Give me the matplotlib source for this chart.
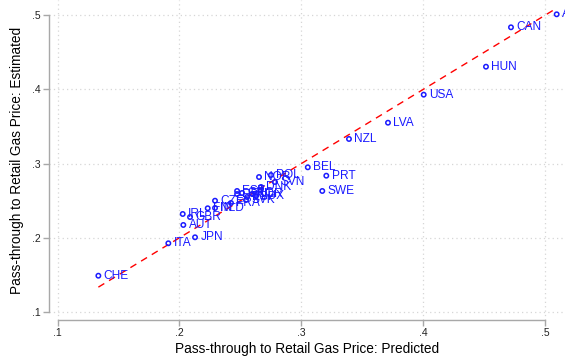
import matplotlib
matplotlib.use("Agg")
import matplotlib.pyplot as plt
import numpy as np

plt.rcParams['font.family'] = ['Liberation Sans', 'DejaVu Sans']

# Country codes with predicted and estimated pass-through
countries = ["AUS", "CAN", "HUN", "USA", "LVA", "NZL", "BEL", "PRT", "SWE",
             "POL", "NOR", "SVN", "DNK", "CZE", "FIN", "NLD", "IRL", "GBR",
             "AUT", "JPN", "ITA", "CHE", "EST", "DEU", "GRC", "ESP", "KOR",
             "SVK", "LUX", "FRA"]
predicted = [0.5095, 0.4720, 0.4515, 0.4004, 0.3711, 0.3391, 0.3053, 0.3205, 0.3172,
             0.2751, 0.2653, 0.2784, 0.2669, 0.2292, 0.2232, 0.2292, 0.2027, 0.2087,
             0.2032, 0.2128, 0.1909, 0.1335, 0.2473, 0.2473, 0.2514, 0.2555, 0.2596,
             0.2546, 0.2628, 0.2423]
estimated = [0.5012, 0.4837, 0.4306, 0.3929, 0.3551, 0.3332, 0.2950, 0.2837, 0.2631,
             0.2846, 0.2819, 0.2752, 0.2685, 0.2500, 0.2398, 0.2402, 0.2321, 0.2280,
             0.2173, 0.2007, 0.1926, 0.1489, 0.2631, 0.2590, 0.2604, 0.2550, 0.2590,
             0.2509, 0.2563, 0.2469]

xticks = [0.1, 0.2, 0.3, 0.4, 0.5]
yticks = [0.1, 0.2, 0.3, 0.4, 0.5]
tick_labels = [".1", ".2", ".3", ".4", ".5"]

W, H = 565, 364
fig = plt.figure(figsize=(W / 100, H / 100), dpi=100)
ax = fig.add_axes([49 / W, 44 / H, (W - 49) / W, 320 / H])

ax.set_xlim(0.093, 0.1 + (W - 57.5) / 1219)
ax.set_ylim(0.1 - 8 / 742, 0.1 + 312 / 742)

blue = "#1a1aff"
grid_c = "#d6d6d6"
axis_c = "#a8a8a8"

for t in xticks:
    ax.axvline(t, color=grid_c, lw=0.9, ls=(0, (1, 2.5)), zorder=0)
for t in yticks:
    ax.axhline(t, color=grid_c, lw=0.9, ls=(0, (1, 2.5)), zorder=0)

# 45-degree reference line across the range of predicted values
lo, hi = min(predicted), max(predicted)
ax.plot([lo, hi], [lo, hi], color="#ff0000", lw=1.0, ls=(0, (5, 4)), zorder=2)

ax.scatter(predicted, estimated, s=10, facecolors="none", edgecolors=blue,
           linewidths=1.1, zorder=3)
for c, x, y in zip(countries, predicted, estimated):
    ax.annotate(c, (x, y), xytext=(3.8, 0), textcoords="offset points",
                ha="left", va="center", color=blue, fontsize=8.6, zorder=4,
                annotation_clip=False)

for s in ["top", "right"]:
    ax.spines[s].set_visible(False)
ax.spines["left"].set_bounds(0.1, 0.5)
ax.spines["bottom"].set_bounds(0.1, 0.5)
for s in ["left", "bottom"]:
    ax.spines[s].set_color(axis_c)
    ax.spines[s].set_linewidth(1.0)

ax.set_xticks(xticks)
ax.set_xticklabels(tick_labels)
ax.set_yticks(yticks)
ax.set_yticklabels(tick_labels)
ax.tick_params(axis="both", direction="out", length=4, width=1.0, color=axis_c,
               labelsize=7.5, labelcolor="#222222", pad=2)
ax.set_xlabel("Pass-through to Retail Gas Price: Predicted", fontsize=9.8, labelpad=3)
ax.set_ylabel("Pass-through to Retail Gas Price: Estimated", fontsize=9.8, labelpad=6)

fig.savefig("out.png", dpi=100)
